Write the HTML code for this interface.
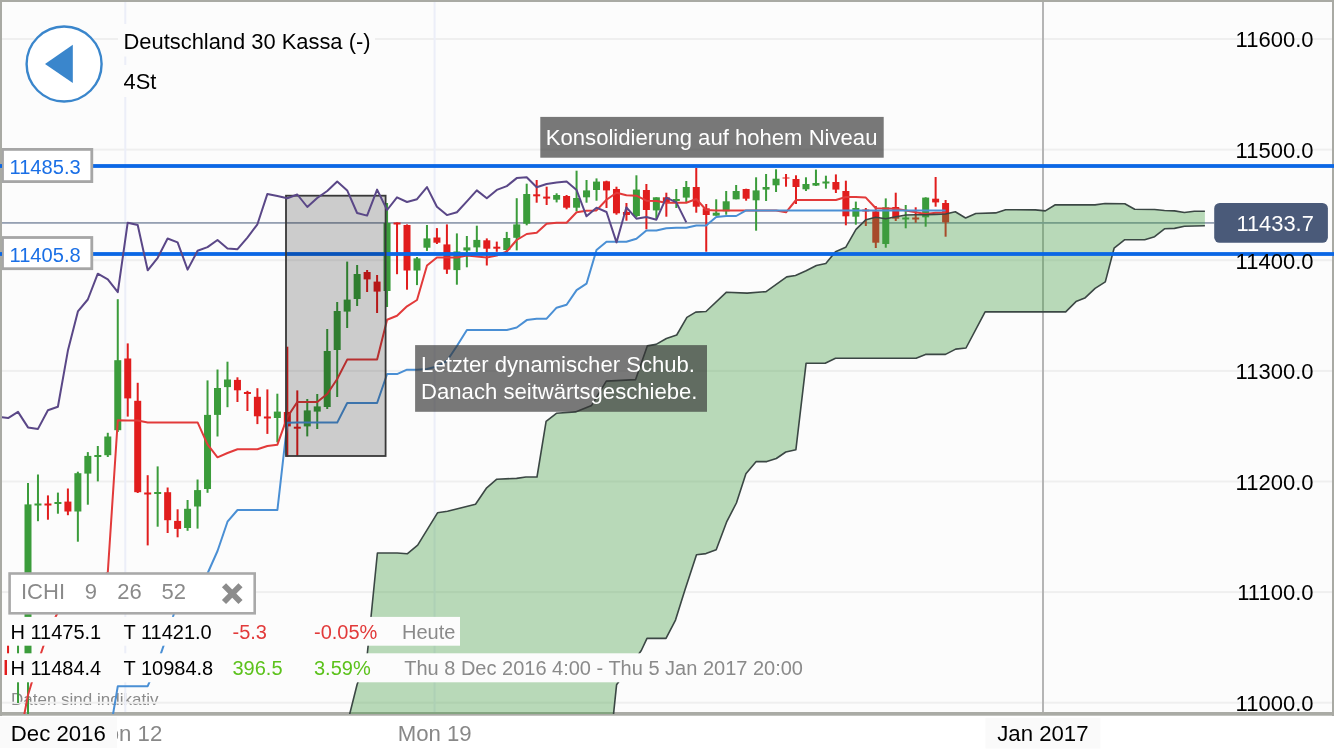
<!DOCTYPE html>
<html><head><meta charset="utf-8"><title>Deutschland 30 Kassa</title>
<style>
html,body{margin:0;padding:0;background:#ffffff;}
body{width:1334px;height:750px;overflow:hidden;position:relative;font-family:"Liberation Sans",Arial,Helvetica,sans-serif;}
svg{position:absolute;left:0;top:0;display:block}
svg text{font-family:"Liberation Sans",Arial,Helvetica,sans-serif;}
.ax{font-size:22px;fill:#000}
.tt{font-size:21.9px;fill:#000}
.lv{font-size:20.1px;fill:#1a6fe6}
.an{font-size:22.2px;fill:#fff}
.pb{font-size:21.9px;fill:#fff}
.ic{font-size:22px;fill:#8a8a8a}
.r1{font-size:20px;fill:#000}
.dt{font-size:17px;fill:#8a8a8a}
.xl{font-size:22.2px;fill:#000}
</style></head><body>
<svg width="1334" height="750" viewBox="0 0 1334 750">
<defs>
<clipPath id="plot"><rect x="2" y="2" width="1330" height="712"/></clipPath>
</defs>
<rect x="0" y="0" width="1334" height="750" fill="#ffffff"/>
<rect x="0" y="0" width="1334" height="716" fill="#fcfcfc"/>
<text x="11.0" y="705.4" class="dt">Daten sind indikativ</text>
<!-- gridlines -->
<rect x="2" y="38.0" width="1330" height="2" fill="#efefef"/>
<rect x="2" y="148.6" width="1330" height="2" fill="#efefef"/>
<rect x="2" y="259.2" width="1330" height="2" fill="#efefef"/>
<rect x="2" y="369.9" width="1330" height="2" fill="#efefef"/>
<rect x="2" y="480.5" width="1330" height="2" fill="#efefef"/>
<rect x="2" y="591.1" width="1330" height="2" fill="#efefef"/>
<rect x="2" y="701.7" width="1330" height="2" fill="#efefef"/>
<rect x="124.3" y="2" width="2" height="711" fill="#eceef8"/>
<rect x="433.6" y="2" width="2" height="711" fill="#eceef8"/>
<rect x="1042" y="2" width="2" height="711" fill="#b5b5b5"/>
<rect x="0" y="712" width="1334" height="3.7" fill="#aaaba5"/>
<g clip-path="url(#plot)">
<!-- current price line -->
<rect x="2" y="222" width="1212.2" height="1.8" fill="#95a0b2"/>
<!-- candles -->
<rect x="-2.92" y="655.0" width="2" height="25.0" fill="#3b9c3b"/>
<rect x="-5.42" y="660.0" width="7" height="15.0" fill="#3b9c3b"/>
<rect x="7.05" y="640.0" width="2" height="40.0" fill="#e11d1d"/>
<rect x="4.55" y="660.0" width="7" height="15.0" fill="#e11d1d"/>
<rect x="17.03" y="640.0" width="2" height="63.0" fill="#3b9c3b"/>
<rect x="14.53" y="655.0" width="7" height="25.0" fill="#3b9c3b"/>
<rect x="27.00" y="483.0" width="2" height="233.0" fill="#3b9c3b"/>
<rect x="24.50" y="504.4" width="7" height="163.6" fill="#3b9c3b"/>
<rect x="36.97" y="474.5" width="2" height="46.7" fill="#3b9c3b"/>
<rect x="34.47" y="503.5" width="7" height="2.0" fill="#3b9c3b"/>
<rect x="46.95" y="495.4" width="2" height="24.3" fill="#e11d1d"/>
<rect x="44.45" y="503.5" width="7" height="2.0" fill="#e11d1d"/>
<rect x="56.92" y="492.6" width="2" height="21.1" fill="#3b9c3b"/>
<rect x="54.42" y="502.0" width="7" height="2.0" fill="#3b9c3b"/>
<rect x="66.90" y="488.5" width="2" height="26.7" fill="#e11d1d"/>
<rect x="64.40" y="501.6" width="7" height="9.9" fill="#e11d1d"/>
<rect x="76.87" y="471.7" width="2" height="70.0" fill="#3b9c3b"/>
<rect x="74.37" y="473.2" width="7" height="38.3" fill="#3b9c3b"/>
<rect x="86.84" y="452.1" width="2" height="52.6" fill="#3b9c3b"/>
<rect x="84.34" y="455.9" width="7" height="17.7" fill="#3b9c3b"/>
<rect x="96.82" y="446.0" width="2" height="35.4" fill="#3b9c3b"/>
<rect x="94.32" y="455.0" width="7" height="2.0" fill="#3b9c3b"/>
<rect x="106.79" y="432.8" width="2" height="24.2" fill="#3b9c3b"/>
<rect x="104.29" y="436.5" width="7" height="18.7" fill="#3b9c3b"/>
<rect x="116.77" y="299.2" width="2" height="132.8" fill="#3b9c3b"/>
<rect x="114.27" y="360.2" width="7" height="70.0" fill="#3b9c3b"/>
<rect x="126.74" y="343.4" width="2" height="73.2" fill="#e11d1d"/>
<rect x="124.24" y="358.5" width="7" height="39.9" fill="#e11d1d"/>
<rect x="136.71" y="382.8" width="2" height="110.2" fill="#e11d1d"/>
<rect x="134.21" y="400.8" width="7" height="91.4" fill="#e11d1d"/>
<rect x="146.69" y="475.2" width="2" height="70.2" fill="#e11d1d"/>
<rect x="144.19" y="492.5" width="7" height="2.0" fill="#e11d1d"/>
<rect x="156.66" y="466.4" width="2" height="60.3" fill="#3b9c3b"/>
<rect x="154.16" y="492.0" width="7" height="2.0" fill="#3b9c3b"/>
<rect x="166.64" y="487.5" width="2" height="45.5" fill="#e11d1d"/>
<rect x="164.14" y="492.2" width="7" height="28.0" fill="#e11d1d"/>
<rect x="176.61" y="509.3" width="2" height="28.0" fill="#e11d1d"/>
<rect x="174.11" y="520.9" width="7" height="8.0" fill="#e11d1d"/>
<rect x="186.58" y="500.0" width="2" height="30.8" fill="#3b9c3b"/>
<rect x="184.08" y="508.8" width="7" height="19.2" fill="#3b9c3b"/>
<rect x="196.56" y="479.5" width="2" height="49.1" fill="#3b9c3b"/>
<rect x="194.06" y="490.1" width="7" height="16.4" fill="#3b9c3b"/>
<rect x="206.53" y="380.4" width="2" height="112.4" fill="#3b9c3b"/>
<rect x="204.03" y="414.9" width="7" height="74.1" fill="#3b9c3b"/>
<rect x="216.51" y="369.5" width="2" height="67.0" fill="#3b9c3b"/>
<rect x="214.01" y="388.0" width="7" height="26.9" fill="#3b9c3b"/>
<rect x="226.48" y="361.7" width="2" height="45.5" fill="#3b9c3b"/>
<rect x="223.98" y="379.5" width="7" height="7.6" fill="#3b9c3b"/>
<rect x="236.45" y="377.3" width="2" height="24.7" fill="#e11d1d"/>
<rect x="233.95" y="379.9" width="7" height="10.4" fill="#e11d1d"/>
<rect x="246.43" y="390.8" width="2" height="20.2" fill="#e11d1d"/>
<rect x="243.93" y="392.0" width="7" height="2.0" fill="#e11d1d"/>
<rect x="256.40" y="388.2" width="2" height="35.9" fill="#e11d1d"/>
<rect x="253.90" y="396.8" width="7" height="19.5" fill="#e11d1d"/>
<rect x="266.38" y="389.4" width="2" height="44.5" fill="#e11d1d"/>
<rect x="263.88" y="416.5" width="7" height="2.0" fill="#e11d1d"/>
<rect x="276.35" y="393.7" width="2" height="48.6" fill="#3b9c3b"/>
<rect x="273.85" y="411.6" width="7" height="6.4" fill="#3b9c3b"/>
<rect x="286.32" y="346.7" width="2" height="110.1" fill="#e11d1d"/>
<rect x="283.82" y="412.0" width="7" height="14.4" fill="#e11d1d"/>
<rect x="296.30" y="390.4" width="2" height="65.6" fill="#e11d1d"/>
<rect x="293.80" y="426.7" width="7" height="2.0" fill="#e11d1d"/>
<rect x="306.27" y="399.0" width="2" height="37.4" fill="#3b9c3b"/>
<rect x="303.77" y="410.4" width="7" height="16.0" fill="#3b9c3b"/>
<rect x="316.25" y="394.0" width="2" height="35.0" fill="#3b9c3b"/>
<rect x="313.75" y="406.4" width="7" height="5.2" fill="#3b9c3b"/>
<rect x="326.22" y="329.0" width="2" height="80.0" fill="#3b9c3b"/>
<rect x="323.72" y="351.0" width="7" height="56.0" fill="#3b9c3b"/>
<rect x="336.19" y="302.0" width="2" height="95.0" fill="#3b9c3b"/>
<rect x="333.69" y="311.0" width="7" height="39.0" fill="#3b9c3b"/>
<rect x="346.17" y="261.6" width="2" height="66.4" fill="#3b9c3b"/>
<rect x="343.67" y="299.6" width="7" height="12.0" fill="#3b9c3b"/>
<rect x="356.14" y="265.0" width="2" height="41.0" fill="#3b9c3b"/>
<rect x="353.64" y="274.0" width="7" height="25.0" fill="#3b9c3b"/>
<rect x="366.12" y="270.0" width="2" height="22.0" fill="#e11d1d"/>
<rect x="363.62" y="272.0" width="7" height="7.4" fill="#e11d1d"/>
<rect x="376.09" y="275.0" width="2" height="38.0" fill="#e11d1d"/>
<rect x="373.59" y="281.6" width="7" height="10.0" fill="#e11d1d"/>
<rect x="386.06" y="203.0" width="2" height="104.0" fill="#3b9c3b"/>
<rect x="383.56" y="223.0" width="7" height="68.0" fill="#3b9c3b"/>
<rect x="396.04" y="222.5" width="2" height="51.7" fill="#e11d1d"/>
<rect x="393.54" y="222.5" width="7" height="2.0" fill="#e11d1d"/>
<rect x="406.01" y="224.4" width="2" height="65.3" fill="#e11d1d"/>
<rect x="403.51" y="225.0" width="7" height="45.5" fill="#e11d1d"/>
<rect x="415.99" y="257.0" width="2" height="28.1" fill="#3b9c3b"/>
<rect x="413.49" y="258.4" width="7" height="12.1" fill="#3b9c3b"/>
<rect x="425.96" y="225.0" width="2" height="25.9" fill="#3b9c3b"/>
<rect x="423.46" y="238.4" width="7" height="9.3" fill="#3b9c3b"/>
<rect x="435.93" y="228.1" width="2" height="15.9" fill="#e11d1d"/>
<rect x="433.43" y="237.5" width="7" height="5.2" fill="#e11d1d"/>
<rect x="445.91" y="224.4" width="2" height="49.5" fill="#e11d1d"/>
<rect x="443.41" y="244.4" width="7" height="25.2" fill="#e11d1d"/>
<rect x="455.88" y="233.4" width="2" height="51.3" fill="#3b9c3b"/>
<rect x="453.38" y="251.5" width="7" height="18.6" fill="#3b9c3b"/>
<rect x="465.86" y="236.0" width="2" height="31.3" fill="#3b9c3b"/>
<rect x="463.36" y="247.4" width="7" height="3.1" fill="#3b9c3b"/>
<rect x="475.83" y="225.7" width="2" height="26.7" fill="#3b9c3b"/>
<rect x="473.33" y="239.9" width="7" height="7.5" fill="#3b9c3b"/>
<rect x="485.80" y="238.4" width="2" height="27.1" fill="#e11d1d"/>
<rect x="483.30" y="240.3" width="7" height="8.4" fill="#e11d1d"/>
<rect x="495.78" y="241.6" width="2" height="10.2" fill="#e11d1d"/>
<rect x="493.28" y="246.7" width="7" height="2.0" fill="#e11d1d"/>
<rect x="505.75" y="231.9" width="2" height="19.6" fill="#3b9c3b"/>
<rect x="503.25" y="238.0" width="7" height="12.0" fill="#3b9c3b"/>
<rect x="515.73" y="198.2" width="2" height="52.2" fill="#3b9c3b"/>
<rect x="513.23" y="224.4" width="7" height="13.4" fill="#3b9c3b"/>
<rect x="525.70" y="183.7" width="2" height="41.6" fill="#3b9c3b"/>
<rect x="523.20" y="194.0" width="7" height="29.7" fill="#3b9c3b"/>
<rect x="535.67" y="180.0" width="2" height="22.7" fill="#e11d1d"/>
<rect x="533.17" y="194.3" width="7" height="2.0" fill="#e11d1d"/>
<rect x="545.65" y="186.7" width="2" height="18.3" fill="#e11d1d"/>
<rect x="543.15" y="196.6" width="7" height="2.0" fill="#e11d1d"/>
<rect x="555.62" y="193.3" width="2" height="9.1" fill="#3b9c3b"/>
<rect x="553.12" y="195.0" width="7" height="4.7" fill="#3b9c3b"/>
<rect x="565.60" y="195.0" width="2" height="14.3" fill="#e11d1d"/>
<rect x="563.10" y="196.0" width="7" height="11.7" fill="#e11d1d"/>
<rect x="575.57" y="170.7" width="2" height="40.6" fill="#3b9c3b"/>
<rect x="573.07" y="198.0" width="7" height="9.7" fill="#3b9c3b"/>
<rect x="585.54" y="180.0" width="2" height="22.7" fill="#3b9c3b"/>
<rect x="583.04" y="190.4" width="7" height="6.9" fill="#3b9c3b"/>
<rect x="595.52" y="178.4" width="2" height="22.3" fill="#3b9c3b"/>
<rect x="593.02" y="181.6" width="7" height="8.4" fill="#3b9c3b"/>
<rect x="605.49" y="180.7" width="2" height="27.3" fill="#e11d1d"/>
<rect x="602.99" y="181.3" width="7" height="9.1" fill="#e11d1d"/>
<rect x="615.47" y="186.7" width="2" height="28.0" fill="#e11d1d"/>
<rect x="612.97" y="189.0" width="7" height="24.3" fill="#e11d1d"/>
<rect x="625.44" y="203.0" width="2" height="17.7" fill="#e11d1d"/>
<rect x="622.94" y="212.0" width="7" height="3.0" fill="#e11d1d"/>
<rect x="635.41" y="175.3" width="2" height="42.0" fill="#3b9c3b"/>
<rect x="632.91" y="189.6" width="7" height="26.4" fill="#3b9c3b"/>
<rect x="645.39" y="184.0" width="2" height="45.3" fill="#e11d1d"/>
<rect x="642.89" y="190.0" width="7" height="20.0" fill="#e11d1d"/>
<rect x="655.36" y="197.3" width="2" height="21.4" fill="#3b9c3b"/>
<rect x="652.86" y="197.3" width="7" height="13.1" fill="#3b9c3b"/>
<rect x="665.34" y="192.7" width="2" height="24.0" fill="#e11d1d"/>
<rect x="662.84" y="197.3" width="7" height="5.1" fill="#e11d1d"/>
<rect x="675.31" y="189.0" width="2" height="19.0" fill="#3b9c3b"/>
<rect x="672.81" y="199.0" width="7" height="2.0" fill="#3b9c3b"/>
<rect x="685.28" y="181.0" width="2" height="21.0" fill="#3b9c3b"/>
<rect x="682.78" y="187.0" width="7" height="10.6" fill="#3b9c3b"/>
<rect x="695.26" y="168.0" width="2" height="44.7" fill="#e11d1d"/>
<rect x="692.76" y="187.0" width="7" height="19.7" fill="#e11d1d"/>
<rect x="705.23" y="204.0" width="2" height="47.7" fill="#e11d1d"/>
<rect x="702.73" y="208.3" width="7" height="6.7" fill="#e11d1d"/>
<rect x="715.21" y="199.3" width="2" height="16.4" fill="#3b9c3b"/>
<rect x="712.71" y="212.7" width="7" height="3.0" fill="#3b9c3b"/>
<rect x="725.18" y="191.0" width="2" height="23.7" fill="#3b9c3b"/>
<rect x="722.68" y="201.3" width="7" height="10.0" fill="#3b9c3b"/>
<rect x="735.15" y="185.0" width="2" height="14.3" fill="#3b9c3b"/>
<rect x="732.65" y="191.0" width="7" height="8.3" fill="#3b9c3b"/>
<rect x="745.13" y="188.7" width="2" height="12.0" fill="#e11d1d"/>
<rect x="742.63" y="189.0" width="7" height="9.7" fill="#e11d1d"/>
<rect x="755.10" y="177.3" width="2" height="53.4" fill="#3b9c3b"/>
<rect x="752.60" y="190.4" width="7" height="9.9" fill="#3b9c3b"/>
<rect x="765.08" y="174.0" width="2" height="27.0" fill="#3b9c3b"/>
<rect x="762.58" y="187.0" width="7" height="2.6" fill="#3b9c3b"/>
<rect x="775.05" y="169.3" width="2" height="22.7" fill="#3b9c3b"/>
<rect x="772.55" y="178.7" width="7" height="6.6" fill="#3b9c3b"/>
<rect x="785.02" y="174.0" width="2" height="12.7" fill="#e11d1d"/>
<rect x="782.52" y="177.5" width="7" height="1.0" fill="#e11d1d"/>
<rect x="795.00" y="175.3" width="2" height="28.7" fill="#e11d1d"/>
<rect x="792.50" y="179.0" width="7" height="8.0" fill="#e11d1d"/>
<rect x="804.97" y="177.3" width="2" height="13.7" fill="#3b9c3b"/>
<rect x="802.47" y="184.0" width="7" height="5.3" fill="#3b9c3b"/>
<rect x="814.95" y="169.6" width="2" height="16.4" fill="#3b9c3b"/>
<rect x="812.45" y="183.0" width="7" height="2.6" fill="#3b9c3b"/>
<rect x="824.92" y="175.7" width="2" height="13.0" fill="#3b9c3b"/>
<rect x="822.42" y="181.5" width="7" height="2.0" fill="#3b9c3b"/>
<rect x="834.89" y="174.4" width="2" height="18.6" fill="#e11d1d"/>
<rect x="832.39" y="182.0" width="7" height="7.6" fill="#e11d1d"/>
<rect x="844.87" y="180.7" width="2" height="44.6" fill="#e11d1d"/>
<rect x="842.37" y="191.0" width="7" height="25.3" fill="#e11d1d"/>
<rect x="854.84" y="201.6" width="2" height="23.1" fill="#3b9c3b"/>
<rect x="852.34" y="208.0" width="7" height="8.7" fill="#3b9c3b"/>
<rect x="864.82" y="208.0" width="2" height="18.0" fill="#e11d1d"/>
<rect x="862.32" y="209.5" width="7" height="2.0" fill="#e11d1d"/>
<rect x="874.79" y="206.0" width="2" height="42.0" fill="#e11d1d"/>
<rect x="872.29" y="211.3" width="7" height="31.4" fill="#e11d1d"/>
<rect x="884.76" y="198.4" width="2" height="49.3" fill="#3b9c3b"/>
<rect x="882.26" y="207.3" width="7" height="36.7" fill="#3b9c3b"/>
<rect x="894.74" y="192.7" width="2" height="28.3" fill="#e11d1d"/>
<rect x="892.24" y="207.0" width="7" height="11.7" fill="#e11d1d"/>
<rect x="904.71" y="205.0" width="2" height="23.3" fill="#3b9c3b"/>
<rect x="902.21" y="217.5" width="7" height="2.0" fill="#3b9c3b"/>
<rect x="914.69" y="207.3" width="2" height="15.4" fill="#e11d1d"/>
<rect x="912.19" y="217.5" width="7" height="2.0" fill="#e11d1d"/>
<rect x="924.66" y="197.3" width="2" height="29.4" fill="#3b9c3b"/>
<rect x="922.16" y="197.6" width="7" height="19.7" fill="#3b9c3b"/>
<rect x="934.63" y="177.0" width="2" height="29.7" fill="#e11d1d"/>
<rect x="932.13" y="198.7" width="7" height="3.7" fill="#e11d1d"/>
<rect x="944.61" y="200.0" width="2" height="36.7" fill="#e11d1d"/>
<rect x="942.11" y="203.0" width="7" height="19.4" fill="#e11d1d"/>
<!-- lines -->
<polyline points="24.0,716.0 28.0,695.0 38.0,662.0 47.9,633.0 57.9,612.0 67.9,605.0 77.9,598.0 87.8,590.0 97.8,581.0 107.8,572.2 117.8,420.3 127.7,420.5 137.7,420.6 147.7,422.4 157.7,422.4 167.6,422.4 177.6,422.4 187.6,422.4 197.6,422.4 207.5,444.3 217.5,457.3 227.5,453.0 237.5,449.3 247.4,449.3 257.4,449.3 267.4,446.0 277.4,444.7 287.3,417.1 297.3,402.0 307.3,402.0 317.2,402.0 327.2,394.0 337.2,379.0 347.2,359.6 357.1,359.6 367.1,359.6 377.1,359.6 387.1,319.8 397.0,315.8 407.0,306.3 417.0,300.0 427.0,265.5 436.9,257.4 446.9,257.4 456.9,257.4 466.9,255.6 476.8,256.5 486.8,257.4 496.8,255.6 506.8,251.5 516.7,240.0 526.7,234.0 536.7,232.7 546.6,223.7 556.6,222.7 566.6,222.7 576.6,212.3 586.5,210.7 596.5,210.4 606.5,199.7 616.5,192.7 626.4,195.3 636.4,195.7 646.4,200.7 656.4,201.0 666.3,202.7 676.3,202.7 686.3,202.7 696.3,199.0 706.2,210.0 716.2,210.4 726.2,210.4 736.2,210.4 746.1,210.4 756.1,210.4 766.1,210.4 776.1,210.4 786.0,212.3 796.0,200.0 806.0,200.0 815.9,200.0 825.9,200.0 835.9,200.0 845.9,197.0 855.8,197.0 865.8,197.6 875.8,208.3 885.8,208.5 895.7,208.7 905.7,210.6 915.7,212.3 925.7,214.0 935.6,212.8 945.6,212.7" fill="none" stroke="#e23a3a" stroke-width="2" stroke-linejoin="round"/>
<polyline points="107.8,745.0 117.8,686.2 127.7,686.2 137.7,686.2 147.7,686.2 157.7,662.9 167.6,634.0 177.6,602.0 187.6,592.0 197.6,584.0 207.5,573.5 217.5,551.0 227.5,521.7 237.5,510.0 247.4,510.0 257.4,510.0 267.4,510.0 277.4,510.0 287.3,422.8 297.3,422.6 307.3,422.6 317.2,422.6 327.2,422.6 337.2,422.6 347.2,403.0 357.1,403.0 367.1,403.0 377.1,403.0 387.1,374.0 397.0,374.1 407.0,369.7 417.0,369.7 427.0,369.0 436.9,366.5 446.9,361.0 456.9,346.0 466.9,330.0 476.8,330.0 486.8,330.0 496.8,330.0 506.8,330.0 516.7,327.5 526.7,320.1 536.7,318.7 546.6,318.7 556.6,307.7 566.6,304.8 576.6,290.1 586.5,283.7 596.5,250.0 606.5,241.7 616.5,241.7 626.4,241.7 636.4,238.7 646.4,230.4 656.4,230.4 666.3,228.3 676.3,227.7 686.3,227.7 696.3,225.6 706.2,225.6 716.2,217.0 726.2,216.0 736.2,216.0 746.1,210.4 756.1,210.4 766.1,210.4 776.1,210.4 786.0,210.4 796.0,210.4 806.0,210.4 815.9,210.4 825.9,210.4 835.9,210.4 845.9,210.4 855.8,210.4 865.8,210.4 875.8,210.4 885.8,210.4 895.7,210.4 905.7,210.4 915.7,210.4 925.7,210.4 935.6,210.4 945.6,210.4" fill="none" stroke="#4a8fd4" stroke-width="2" stroke-linejoin="round"/>
<!-- cloud -->
<polygon points="344.0,737.5 347.2,724.0 357.1,684.5 367.1,656.0 377.4,553.0 397.2,553.0 407.2,553.8 417.7,545.2 437.5,512.8 447.5,511.3 475.5,504.2 486.7,487.8 496.8,479.2 516.6,478.4 525.9,477.0 537.0,477.0 546.1,421.3 556.4,413.3 575.5,411.9 591.6,405.4 606.3,381.1 635.6,379.6 647.3,345.9 656.1,344.4 666.4,338.5 676.7,335.0 686.9,317.4 695.7,312.1 706.0,311.5 726.5,292.2 747.1,293.1 766.1,291.6 786.7,276.9 795.5,275.5 806.1,270.8 816.4,265.5 825.8,263.5 835.5,251.7 845.7,247.3 856.0,229.3 866.0,219.7 875.7,217.3 885.7,218.7 896.0,216.7 906.0,215.0 915.7,214.7 925.7,214.7 935.7,214.4 945.6,214.0 955.3,211.7 965.6,218.0 975.8,213.5 995.7,212.9 1005.6,209.7 1035.4,209.9 1045.3,210.9 1055.3,204.7 1095.0,204.9 1105.0,203.5 1124.8,203.7 1134.7,209.3 1154.6,209.5 1164.5,210.5 1174.5,210.9 1184.4,212.5 1194.3,211.3 1204.9,211.3 1204.9,225.8 1184.4,226.2 1174.5,228.4 1164.5,228.8 1154.6,236.7 1144.7,239.7 1124.8,239.7 1114.1,248.2 1105.3,281.9 1095.1,288.4 1084.8,298.1 1076.0,301.6 1065.7,311.9 985.1,311.9 966.0,348.0 955.7,349.1 945.5,354.4 925.5,354.4 916.1,358.2 835.5,358.2 825.2,363.2 806.1,363.2 795.9,449.7 785.8,452.0 776.3,458.5 766.8,461.6 756.2,461.6 745.9,473.7 736.4,503.0 726.9,521.3 716.2,549.8 706.0,553.6 696.5,554.7 685.0,589.7 675.5,620.1 666.0,638.4 647.0,638.4 641.3,650.5 616.6,684.7 613.6,713.3 611.0,740.0" fill="rgba(65,155,65,0.365)" stroke="none"/>
<polyline points="344.0,737.5 347.2,724.0 357.1,684.5 367.1,656.0 377.4,553.0 397.2,553.0 407.2,553.8 417.7,545.2 437.5,512.8 447.5,511.3 475.5,504.2 486.7,487.8 496.8,479.2 516.6,478.4 525.9,477.0 537.0,477.0 546.1,421.3 556.4,413.3 575.5,411.9 591.6,405.4 606.3,381.1 635.6,379.6 647.3,345.9 656.1,344.4 666.4,338.5 676.7,335.0 686.9,317.4 695.7,312.1 706.0,311.5 726.5,292.2 747.1,293.1 766.1,291.6 786.7,276.9 795.5,275.5 806.1,270.8 816.4,265.5 825.8,263.5 835.5,251.7 845.7,247.3 856.0,229.3 866.0,219.7 875.7,217.3 885.7,218.7 896.0,216.7 906.0,215.0 915.7,214.7 925.7,214.7 935.7,214.4 945.6,214.0 955.3,211.7 965.6,218.0 975.8,213.5 995.7,212.9 1005.6,209.7 1035.4,209.9 1045.3,210.9 1055.3,204.7 1095.0,204.9 1105.0,203.5 1124.8,203.7 1134.7,209.3 1154.6,209.5 1164.5,210.5 1174.5,210.9 1184.4,212.5 1194.3,211.3 1204.9,211.3" fill="none" stroke="#3b4744" stroke-width="1.6" stroke-linejoin="round"/>
<polyline points="1204.9,225.8 1184.4,226.2 1174.5,228.4 1164.5,228.8 1154.6,236.7 1144.7,239.7 1124.8,239.7 1114.1,248.2 1105.3,281.9 1095.1,288.4 1084.8,298.1 1076.0,301.6 1065.7,311.9 985.1,311.9 966.0,348.0 955.7,349.1 945.5,354.4 925.5,354.4 916.1,358.2 835.5,358.2 825.2,363.2 806.1,363.2 795.9,449.7 785.8,452.0 776.3,458.5 766.8,461.6 756.2,461.6 745.9,473.7 736.4,503.0 726.9,521.3 716.2,549.8 706.0,553.6 696.5,554.7 685.0,589.7 675.5,620.1 666.0,638.4 647.0,638.4 641.3,650.5 616.6,684.7 613.6,713.3 611.0,740.0" fill="none" stroke="#3b4744" stroke-width="1.6" stroke-linejoin="round"/>
<!-- support/resistance lines -->

<rect x="2" y="164.1" width="1330" height="3.8" fill="#0b67e5"/>
<rect x="2" y="252.1" width="1330" height="3.8" fill="#0b67e5"/>
<!-- gray annotation rectangle -->
<rect x="286" y="195.7" width="99.6" height="260.3" fill="rgba(0,0,0,0.19)" stroke="#383838" stroke-width="1.8"/>
<polyline points="-11.9,417.0 -1.9,416.6 8.1,418.1 18.0,411.9 28.0,427.4 38.0,428.9 47.9,410.2 57.9,406.8 67.9,350.6 77.9,311.4 87.8,299.5 97.8,273.7 107.8,279.3 117.8,292.1 127.7,222.7 137.7,225.0 147.7,270.3 157.7,257.8 167.6,238.5 177.6,242.4 187.6,269.6 197.6,250.8 207.5,247.1 217.5,240.0 227.5,248.4 237.5,249.2 247.4,237.6 257.4,224.3 267.4,193.9 277.4,196.0 287.3,198.3 297.3,194.5 307.3,207.0 317.2,198.0 327.2,191.0 337.2,181.6 347.2,190.4 357.1,213.0 367.1,215.6 377.1,189.6 387.1,210.0 397.0,197.3 407.0,202.0 417.0,199.2 427.0,187.1 436.9,206.7 446.9,215.1 456.9,212.3 466.9,201.4 476.8,190.4 486.8,198.3 496.8,189.9 506.8,186.1 516.7,178.1 526.7,177.3 536.7,187.3 546.6,184.0 556.6,182.4 566.6,181.6 576.6,190.0 586.5,216.3 596.5,207.7 606.5,212.0 616.5,242.4 626.4,207.3 636.4,218.7 646.4,217.0 656.4,219.7 666.3,197.6 676.3,202.4 686.3,222.4" fill="none" stroke="#5a4787" stroke-width="2" stroke-linejoin="round"/>
</g>
<!-- title area -->
<rect x="118" y="24" width="257" height="32.5" fill="#fcfcfc"/>
<rect x="118" y="65" width="60" height="32" fill="#fcfcfc"/>
<text x="123.5" y="48.8" class="tt">Deutschland 30 Kassa (-)</text>
<text x="123.5" y="89" class="tt">4St</text>
<circle cx="64.1" cy="64" r="37.5" fill="#ffffff" stroke="#3a86cc" stroke-width="2.4"/>
<polygon points="45,63.9 72.8,44.8 72.8,83" fill="#3a86cc"/>
<!-- level label boxes -->
<rect x="2.5" y="149.4" width="89.3" height="32.2" fill="#ffffff" stroke="#a6a6a6" stroke-width="2.8"/>
<text x="9.5" y="174" class="lv">11485.3</text>
<rect x="2.5" y="237.5" width="89.3" height="31.2" fill="#ffffff" stroke="#a6a6a6" stroke-width="2.8"/>
<text x="9.5" y="262" class="lv">11405.8</text>
<!-- annotations -->
<rect x="540.3" y="116.9" width="343.4" height="40.8" fill="rgba(51,51,51,0.66)"/>
<text x="545.8" y="144.7" class="an" style="font-size:22.1px">Konsolidierung auf hohem Niveau</text>
<rect x="415.1" y="345.1" width="291.9" height="66.7" fill="rgba(51,51,51,0.66)"/>
<text x="421.1" y="371.7" class="an" style="font-size:22.1px">Letzter dynamischer Schub.</text>
<text x="421.1" y="398.9" class="an" style="font-size:22.1px">Danach seitwärtsgeschiebe.</text>
<!-- current price box -->
<rect x="1214.2" y="203" width="113.7" height="39.8" rx="5.5" ry="5.5" fill="#4a5a79"/>
<text x="1313.9" y="231.4" text-anchor="end" class="pb">11433.7</text>
<!-- ICHI box -->
<rect x="9.6" y="573.5" width="245.1" height="39.8" fill="#ffffff" stroke="#a9a9a9" stroke-width="2.6"/>
<text x="21.0" y="599" class="ic">ICHI</text>
<text x="84.8" y="599" class="ic">9</text>
<text x="117.2" y="599" class="ic">26</text>
<text x="161.6" y="599" class="ic">52</text>
<path d="M224,585.3 L240.5,602 M240.5,585.3 L224,602" stroke="#8c8c8c" stroke-width="5.8" stroke-linecap="butt"/>
<!-- info rows -->
<rect x="7" y="616.9" width="453" height="28.8" fill="#fcfcfc"/>
<rect x="7" y="653.3" width="806" height="29" fill="#fcfcfc"/>
<text x="10.4" y="639" class="r1">H 11475.1</text>
<text x="123.5" y="639" class="r1">T 11421.0</text>
<text x="232.5" y="639" class="r1" style="fill:#e23a3a">-5.3</text>
<text x="314" y="639" class="r1" style="fill:#e23a3a">-0.05%</text>
<text x="402" y="639" class="r1" style="fill:#8a8a8a">Heute</text>
<text x="10.4" y="675" class="r1">H 11484.4</text>
<text x="123.5" y="675" class="r1">T 10984.8</text>
<text x="232.5" y="675" class="r1" style="fill:#5cc21c">396.5</text>
<text x="314" y="675" class="r1" style="fill:#5cc21c">3.59%</text>
<text x="404.2" y="675" class="r1" style="fill:#8a8a8a">Thu 8 Dec 2016 4:00 - Thu 5 Jan 2017 20:00</text>
<!-- x axis labels -->
<text x="125.3" y="741" text-anchor="middle" class="xl" style="fill:#888888">Mon 12</text>
<rect x="0" y="717" width="117" height="31" fill="#fafafa"/>
<text x="10.8" y="741" class="xl">Dec 2016</text>
<text x="434.7" y="741" text-anchor="middle" class="xl" style="fill:#888888">Mon 19</text>
<rect x="985.4" y="717.8" width="115" height="30.7" fill="#fafafa"/>
<text x="1042.9" y="741" text-anchor="middle" class="xl">Jan 2017</text>
<!-- frame border -->
<rect x="0" y="0" width="1334" height="2" fill="#a9aaa4"/>
<rect x="0" y="0" width="2" height="716" fill="#a9aaa4"/>
<rect x="1332" y="0" width="2" height="716" fill="#a9aaa4"/>
<rect x="0" y="164.1" width="2" height="3.8" fill="#0b67e5"/>
<rect x="0" y="252.1" width="2" height="3.8" fill="#0b67e5"/>
<rect x="1332" y="164.1" width="2" height="3.8" fill="#0b67e5"/>
<rect x="1332" y="252.1" width="2" height="3.8" fill="#0b67e5"/>
<!-- price axis labels -->
<text x="1313.5" y="47.3" text-anchor="end" class="ax">11600.0</text>
<text x="1313.5" y="157.9" text-anchor="end" class="ax">11500.0</text>
<text x="1313.5" y="268.5" text-anchor="end" class="ax">11400.0</text>
<text x="1313.5" y="379.2" text-anchor="end" class="ax">11300.0</text>
<text x="1313.5" y="489.8" text-anchor="end" class="ax">11200.0</text>
<text x="1313.5" y="600.4" text-anchor="end" class="ax">11100.0</text>
<text x="1313.5" y="711.0" text-anchor="end" class="ax">11000.0</text>
</svg>
</body></html>
